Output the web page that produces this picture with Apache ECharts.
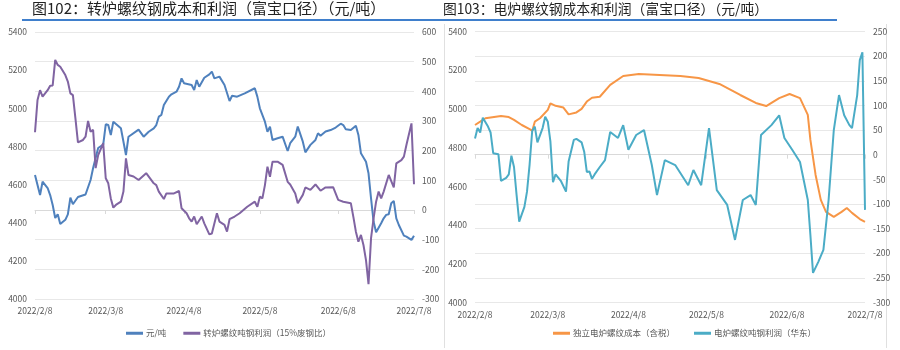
<!DOCTYPE html>
<html><head><meta charset="utf-8">
<script src="https://cdn.jsdelivr.net/npm/echarts@6/dist/echarts.min.js"></script>
<style>html,body{margin:0;padding:0;background:#fff}#c{width:900px;height:350px}</style>
</head><body><div id="c"></div>
<script>
const titleLeft = '图102：转炉螺纹钢成本和利润（富宝口径）（元/吨）';
const titleRight = '图103：电炉螺纹钢成本和利润（富宝口径）（元/吨）';
const nameBofCost = '元/吨';
const nameBofProfit = '转炉螺纹吨钢利润（15%废钢比）';
const nameEafCost = '独立电炉螺纹成本（含税）';
const nameEafProfit = '电炉螺纹吨钢利润（华东）';
const startDate = [2022, 2, 8];
const endDate = [2022, 7, 8];
const leftAxisTicks = {min: 4000, max: 5400, step: 200};
const rightAxisTicks1 = {min: -300, max: 600, step: 100};
const rightAxisTicks2 = {min: -300, max: 250, step: 50};

const bofCost = [['2/8',4650],['2/10',4545],['2/11',4615],['2/13',4582],['2/14',4545],['2/15',4493],['2/16',4425],['2/17',4444],['2/18',4393],['2/20',4415],
['2/21',4444],['2/22',4531],['2/23',4497],['2/25',4535],['2/28',4548],['3/2',4624],['3/3',4687],['3/5',4792],['3/7',4810],['3/8',4916],
['3/9',4912],['3/10',4860],['3/11',4930],['3/14',4895],['3/16',4755],['3/17',4851],['3/21',4888],['3/23',4851],['3/25',4877],['3/27',4895],
['3/28',4912],['3/29',4956],['3/30',4965],['3/31',5017],['4/2',5061],['4/3',5073],['4/5',5087],['4/6',5113],['4/7',5157],['4/8',5131],
['4/11',5122],['4/12',5096],['4/13',5148],['4/14',5113],['4/16',5160],['4/18',5178],['4/19',5192],['4/20',5157],['4/22',5166],['4/24',5122],
['4/26',5038],['4/27',5066],['4/29',5061],['5/2',5078],['5/6',5105],['5/7',5061],['5/8',5000],['5/10',4930],['5/11',4877],['5/12',4904],
['5/13',4834],['5/15',4843],['5/17',4851],['5/19',4776],['5/20',4817],['5/22',4851],['5/23',4904],['5/25',4825],['5/26',4769],['5/28',4808],
['5/30',4834],['5/31',4869],['6/1',4856],['6/3',4878],['6/5',4886],['6/7',4899],['6/9',4919],['6/10',4912],['6/11',4890],['6/13',4886],
['6/15',4909],['6/16',4860],['6/17',4764],['6/19',4720],['6/20',4659],['6/21',4528],['6/22',4406],['6/23',4350],['6/25',4397],['6/26',4423],
['6/27',4441],['6/28',4444],['6/29',4502],['6/30',4514],['7/1',4423],['7/2',4388],['7/4',4332],['7/5',4327],['7/7',4310],['7/8',4332]];

const bofProfit = [['2/8',262],['2/9',371],['2/10',404],['2/11',382],['2/13',404],['2/14',419],['2/15',420],['2/16',506],['2/17',489],['2/18',483],
['2/20',455],['2/21',433],['2/22',393],['2/23',387],['2/24',309],['2/25',228],['2/27',236],['2/28',247],['3/1',300],['3/2',264],
['3/3',270],['3/4',141],['3/5',185],['3/7',225],['3/8',107],['3/9',90],['3/10',39],['3/11',8],['3/12',17],['3/14',28],
['3/15',62],['3/16',174],['3/17',118],['3/19',113],['3/21',101],['3/24',124],['3/27',90],['3/28',84],['3/29',62],['3/31',37],
['4/1',56],['4/4',56],['4/6',64],['4/7',6],['4/9',-11],['4/10',-28],['4/11',-39],['4/12',-22],['4/13',-48],['4/15',-22],
['4/16',-45],['4/18',-82],['4/19',-79],['4/21',-11],['4/22',-39],['4/24',-50],['4/25',-73],['4/26',-31],['4/28',-22],['4/30',-11],
['5/3',11],['5/6',28],['5/7',11],['5/8',45],['5/9',39],['5/10',84],['5/11',146],['5/12',112],['5/13',163],['5/15',163],
['5/17',152],['5/19',95],['5/20',86],['5/22',56],['5/23',23],['5/25',51],['5/26',76],['5/28',68],['5/30',86],['6/1',65],
['6/3',76],['6/6',77],['6/8',34],['6/10',28],['6/13',23],['6/14',-23],['6/15',-73],['6/16',-107],['6/17',-84],['6/18',-118],
['6/19',-169],['6/20',-250],['6/21',-95],['6/22',-28],['6/23',28],['6/24',62],['6/25',39],['6/26',62],['6/28',118],['6/30',76],
['7/1',157],['7/3',168],['7/4',180],['7/5',219],['7/7',292],['7/8',87]];

const eafCost = [['2/8',4917],['2/10',4934],['2/12',4952],['2/18',4963],['2/21',4958],['2/23',4943],['2/26',4917],['3/1',4896],['3/2',4886],['3/3',4934],
['3/5',4952],['3/8',4995],['3/9',5029],['3/11',5016],['3/14',5007],['3/16',4972],['3/19',4982],['3/21',5000],['3/23',5038],['3/25',5058],
['3/28',5063],['4/1',5124],['4/6',5170],['4/12',5180],['4/20',5175],['4/28',5170],['5/5',5160],['5/13',5129],['5/21',5072],['5/27',5031],
['5/31',5015],['6/5',5056],['6/9',5077],['6/13',5056],['6/16',4969],['6/17',4840],['6/19',4659],['6/21',4530],['6/23',4468],['6/26',4442],
['6/29',4468],['7/1',4488],['7/3',4463],['7/6',4431],['7/8',4416]];

const eafProfit = [['2/8',33],['2/9',54],['2/10',45],['2/11',75],['2/13',57],['2/14',45],['2/15',3],['2/17',1],['2/18',-53],['2/20',-47],
['2/21',-40],['2/22',-2],['2/23',-25],['2/24',-82],['2/25',-136],['2/27',-106],['2/28',-75],['3/1',-20],['3/2',48],['3/3',57],
['3/4',25],['3/6',54],['3/7',77],['3/8',67],['3/9',27],['3/10',-56],['3/11',-40],['3/13',-53],['3/15',-75],['3/16',-14],
['3/18',30],['3/19',32],['3/21',25],['3/22',6],['3/23',-35],['3/24',-34],['3/25',-49],['3/26',-40],['3/28',-25],['3/30',-11],
['4/1',46],['4/4',34],['4/6',60],['4/8',10],['4/11',40],['4/14',50],['4/17',-21],['4/19',-82],['4/22',-11],['4/26',-21],
['5/1',-62],['5/3',-31],['5/6',-62],['5/9',54],['5/12',-72],['5/16',-102],['5/19',-173],['5/22',-92],['5/25',-82],['5/27',-102],
['5/29',40],['6/2',60],['6/5',80],['6/7',34],['6/10',10],['6/13',-15],['6/16',-92],['6/17',-163],['6/18',-240],['6/20',-218],
['6/22',-193],['6/24',-92],['6/26',50],['6/28',121],['6/30',80],['7/2',60],['7/3',54],['7/5',121],['7/6',192],['7/7',208],['7/8',-112]];

// build the daily category list
const categories = [];
{
  let t = Date.UTC(startDate[0], startDate[1]-1, startDate[2]);
  const tEnd = Date.UTC(endDate[0], endDate[1]-1, endDate[2]);
  while (t <= tEnd) {
    const d = new Date(t);
    categories.push(d.getUTCFullYear() + '/' + (d.getUTCMonth()+1) + '/' + d.getUTCDate());
    t += 86400000;
  }
}
const toSeries = arr => arr.map(p => ['2022/' + p[0], p[1]]);
const isEighth = (i, v) => /\/8$/.test(v);

const FONT = '"Noto Sans CJK SC","Noto Sans",sans-serif';
const labelColor = '#595959';
const C_BLUE = '#4F81BD', C_PURPLE = '#8064A2', C_ORANGE = '#F79646', C_TEAL = '#4BACC6';

function xAxisFor(gi) {
  return {
    type: 'category', gridIndex: gi, data: categories, boundaryGap: false,
    axisLine: {lineStyle: {color: '#D9D9D9'}},
    axisTick: {show: true, interval: isEighth, length: 4, lineStyle: {color: '#D9D9D9'}},
    axisLabel: {interval: isEighth, color: labelColor, fontSize: 8.5, fontFamily: FONT, margin: 8,
      showMinLabel: true, showMaxLabel: true, hideOverlap: false},
    splitLine: {show: false}
  };
}
function yAxisFor(gi, t, pos, split) {
  return {
    type: 'value', gridIndex: gi, position: pos, min: t.min, max: t.max, interval: t.step,
    axisLine: {show: false}, axisTick: {show: false},
    axisLabel: {color: labelColor, fontSize: 8.5, fontFamily: FONT, margin: 8, formatter: v => String(v)},
    splitLine: {show: split, lineStyle: {color: '#E8E8E8', width: 1}}
  };
}

const chart = echarts.init(document.getElementById('c'), null, {renderer: 'canvas'});
chart.setOption({
  animation: false,
  backgroundColor: '#fff',
  title: [
    {text: titleLeft, left: 32, top: 1, padding: 0, textStyle: {fontSize: 15, fontWeight: 'normal', color: '#222', fontFamily: FONT}},
    {text: titleRight, left: 443, top: 2, padding: 0, textStyle: {fontSize: 13.8, fontWeight: 'normal', color: '#222', fontFamily: FONT}}
  ],
  graphic: [
    {type: 'rect', shape: {x: 22, y: 19, width: 815, height: 2}, style: {fill: '#3F7FCC'}},
    {type: 'line', shape: {x1: 444.5, y1: 24, x2: 444.5, y2: 348}, style: {stroke: '#E0E0E0', lineWidth: 1}},
    {type: 'line', shape: {x1: 886.5, y1: 24, x2: 886.5, y2: 348}, style: {stroke: '#E0E0E0', lineWidth: 1}}
  ],
  legend: [
    {data: [nameBofCost, nameBofProfit], left: 126, top: 329, itemWidth: 17, itemHeight: 3, itemGap: 17, padding: 0,
     icon: 'rect', textStyle: {fontSize: 8.5, color: labelColor, fontFamily: FONT, padding: [0, 0, 0, -2]}},
    {data: [nameEafCost, nameEafProfit], left: 553, top: 329, itemWidth: 17, itemHeight: 3, itemGap: 19, padding: 0,
     icon: 'rect', textStyle: {fontSize: 8.5, color: labelColor, fontFamily: FONT, padding: [0, 0, 0, -2]}}
  ],
  grid: [
    {left: 35, top: 32, width: 379, height: 267},
    {left: 475, top: 31.5, width: 390, height: 271}
  ],
  xAxis: [xAxisFor(0), xAxisFor(1)],
  yAxis: [
    yAxisFor(0, leftAxisTicks, 'left', false),
    yAxisFor(0, rightAxisTicks1, 'right', true),
    yAxisFor(1, leftAxisTicks, 'left', false),
    yAxisFor(1, rightAxisTicks2, 'right', true)
  ],
  series: [
    {name: nameBofCost, type: 'line', xAxisIndex: 0, yAxisIndex: 0, data: toSeries(bofCost), showSymbol: false,
     lineStyle: {color: C_BLUE, width: 2}, itemStyle: {color: C_BLUE}},
    {name: nameBofProfit, type: 'line', xAxisIndex: 0, yAxisIndex: 1, data: toSeries(bofProfit), showSymbol: false,
     lineStyle: {color: C_PURPLE, width: 2}, itemStyle: {color: C_PURPLE}},
    {name: nameEafCost, type: 'line', xAxisIndex: 1, yAxisIndex: 2, data: toSeries(eafCost), showSymbol: false,
     lineStyle: {color: C_ORANGE, width: 2}, itemStyle: {color: C_ORANGE}},
    {name: nameEafProfit, type: 'line', xAxisIndex: 1, yAxisIndex: 3, data: toSeries(eafProfit), showSymbol: false,
     lineStyle: {color: C_TEAL, width: 2}, itemStyle: {color: C_TEAL}}
  ]
});
</script></body></html>
